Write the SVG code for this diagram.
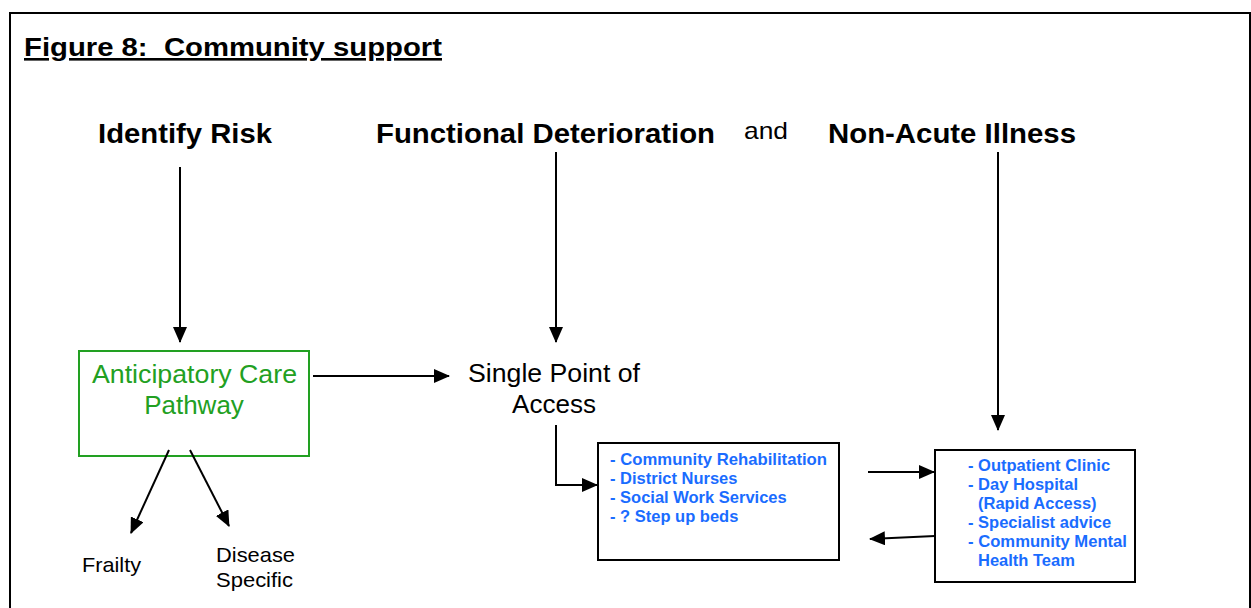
<svg xmlns="http://www.w3.org/2000/svg" width="1251" height="608" viewBox="0 0 1251 608">
<style>
.t{font-family:"Liberation Sans",Arial,sans-serif;fill:#000}
.h{font-size:28px;font-weight:bold}
.b{font-family:"Liberation Sans",Arial,sans-serif;font-size:16.5px;font-weight:bold;fill:#1a6cff}
.c{stroke:#000;stroke-width:2;fill:none}
</style>
<defs>
<marker id="a" markerWidth="16" markerHeight="14" refX="15" refY="7" orient="auto" markerUnits="userSpaceOnUse" viewBox="0 0 16 14">
<path d="M0,0 L16,7 L0,14 z" fill="#000"/>
</marker>
</defs>
<rect width="1251" height="608" fill="#fff"/>
<path d="M10,620 V13 H1250 V620" fill="none" stroke="#000" stroke-width="2"/>
<text class="t" x="24" y="56" font-size="26" font-weight="bold" text-decoration="underline" xml:space="preserve" textLength="418" lengthAdjust="spacingAndGlyphs">Figure 8:  Community support</text>
<g id="identify-risk"><text class="t h" x="98" y="143" textLength="174" lengthAdjust="spacingAndGlyphs">Identify Risk</text></g>
<g id="functional-deterioration"><text class="t h" x="376" y="143" textLength="339" lengthAdjust="spacingAndGlyphs">Functional Deterioration</text></g>
<g id="and"><text class="t" x="744" y="139" font-size="24" textLength="44" lengthAdjust="spacingAndGlyphs">and</text></g>
<g id="non-acute-illness"><text class="t h" x="828" y="143" textLength="248" lengthAdjust="spacingAndGlyphs">Non-Acute Illness</text></g>
<g id="acp">
<rect x="79" y="351" width="230" height="105" fill="#fff" stroke="#22a022" stroke-width="2"/>
<text x="92" y="383" font-family="Liberation Sans,Arial,sans-serif" font-size="26" fill="#22a022" textLength="205" lengthAdjust="spacingAndGlyphs">Anticipatory Care</text>
<text x="194" y="414" font-family="Liberation Sans,Arial,sans-serif" font-size="26" fill="#22a022" text-anchor="middle">Pathway</text>
</g>
<g id="spoa">
<text class="t" x="468" y="382" font-size="26" textLength="172" lengthAdjust="spacingAndGlyphs">Single Point of</text>
<text class="t" x="554" y="413" font-size="26" text-anchor="middle">Access</text>
</g>
<g id="frailty"><text class="t" x="82" y="572" font-size="21" textLength="59" lengthAdjust="spacingAndGlyphs">Frailty</text></g>
<g id="disease"><text class="t" x="216" y="562" font-size="21" textLength="79" lengthAdjust="spacingAndGlyphs">Disease</text><text class="t" x="216" y="587" font-size="21" textLength="77" lengthAdjust="spacingAndGlyphs">Specific</text></g>
<g id="community-services">
<rect x="598" y="443" width="241" height="117" fill="#fff" stroke="#000" stroke-width="2"/>
<text class="b" x="610" y="465" textLength="217" lengthAdjust="spacingAndGlyphs">- Community Rehabilitation</text>
<text class="b" x="610" y="484">- District Nurses</text>
<text class="b" x="610" y="503">- Social Work Services</text>
<text class="b" x="610" y="522">- ? Step up beds</text>
</g>
<g id="specialist-services">
<rect x="935" y="450" width="200" height="132" fill="#fff" stroke="#000" stroke-width="2"/>
<text class="b" x="968" y="471">- Outpatient Clinic</text>
<text class="b" x="968" y="490">- Day Hospital</text>
<text class="b" x="978" y="509">(Rapid Access)</text>
<text class="b" x="968" y="528">- Specialist advice</text>
<text class="b" x="968" y="547" textLength="159" lengthAdjust="spacingAndGlyphs">- Community Mental</text>
<text class="b" x="978" y="566">Health Team</text>
</g>
<g id="connectors">
<path class="c" d="M180,167 V342" marker-end="url(#a)"/>
<path class="c" d="M556,152 V342" marker-end="url(#a)"/>
<path class="c" d="M998,152 V430" marker-end="url(#a)"/>
<path class="c" d="M313,376 H449" marker-end="url(#a)"/>
<path class="c" d="M556,425 V485 H597" marker-end="url(#a)"/>
<path class="c" d="M868,472 H934" marker-end="url(#a)"/>
<path class="c" d="M935,536 L870,539" marker-end="url(#a)"/>
<path class="c" d="M169,450 L131,533" marker-end="url(#a)"/>
<path class="c" d="M190,450 L229,526" marker-end="url(#a)"/>
</g>
</svg>
